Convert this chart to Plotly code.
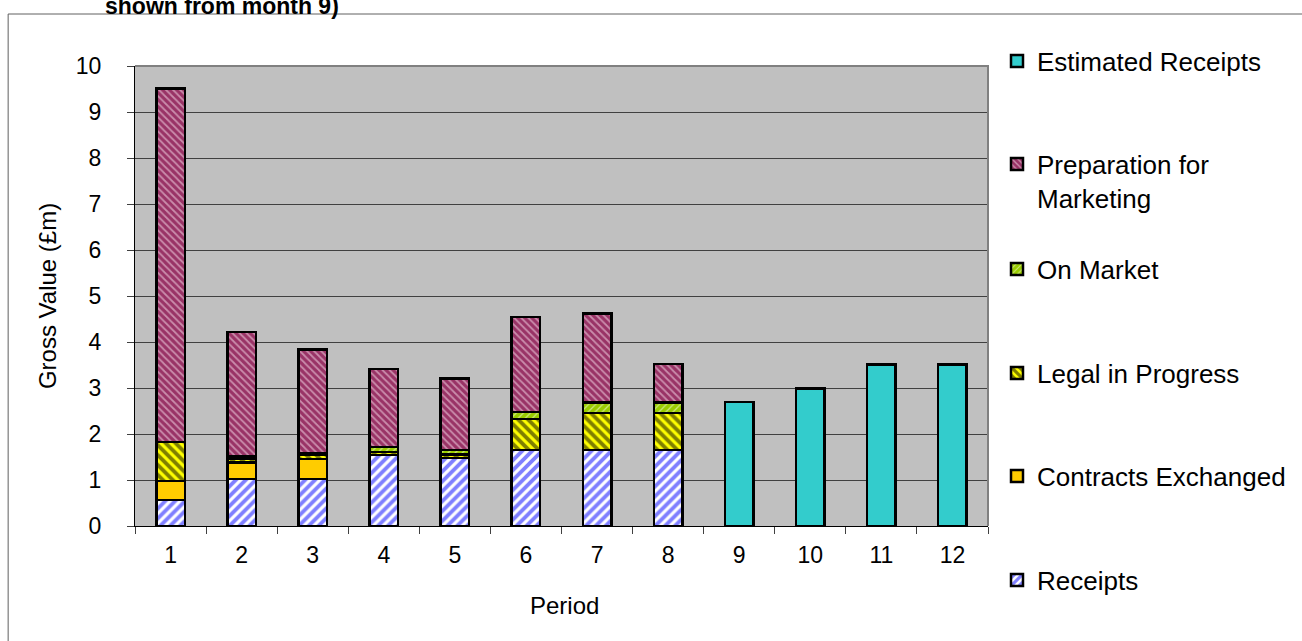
import plotly.graph_objects as go

periods = [str(i) for i in range(1, 13)]
receipts = [0.57, 1.02, 1.02, 1.54, 1.48, 1.65, 1.65, 1.65, None, None, None, None]
contracts = [0.41, 0.36, 0.44, 0.0, 0.0, 0.0, 0.0, 0.0, None, None, None, None]
legal = [0.85, 0.09, 0.08, 0.07, 0.07, 0.68, 0.81, 0.81, None, None, None, None]
on_market = [0.0, 0.04, 0.04, 0.11, 0.10, 0.15, 0.23, 0.23, None, None, None, None]
preparation = [7.68, 2.71, 2.26, 1.69, 1.56, 2.06, 1.93, 0.83, None, None, None, None]
estimated = [None] * 8 + [2.70, 2.99, 3.51, 3.51]

FONT = "Liberation Sans, Arial, sans-serif"

# plot area in pixels
W, H = 1302, 641
L, R, T, B = 135, 989, 66, 526


def px_x(p):
    return (p - L) / (R - L)


def px_y(p):
    return (B - p) / (B - T)


line = dict(color="black", width=2.5)
series = [
    ("Receipts", receipts, dict(color="#0000FF", line=line,
                                pattern=dict(shape="/", fgcolor="#0000FF", bgcolor="white", size=7, solidity=0.55)), "legend6", 580),
    ("Contracts Exchanged", contracts, dict(color="#FFCC00", line=line), "legend5", 476),
    ("Legal in Progress", legal, dict(color="#FFFF00", line=line,
                                      pattern=dict(shape="\\", fgcolor="black", bgcolor="#FFFF00", size=7, solidity=0.55)), "legend4", 373),
    ("On Market", on_market, dict(color="#99CC00", line=line,
                                  pattern=dict(shape="/", fgcolor="white", bgcolor="#99CC00", size=5, solidity=0.25)), "legend3", 269),
    ("Preparation for<br>Marketing", preparation, dict(color="#993366", line=line,
                                                       pattern=dict(shape="\\", fgcolor="#FBE6F0", bgcolor="#993366", size=5, solidity=0.35)), "legend2", 181),
    ("Estimated Receipts", estimated, dict(color="#33CCCC", line=line), "legend", 61),
]

fig = go.Figure()
legends = {}
for name, vals, marker, lg, ypx in series:
    fig.add_trace(go.Bar(x=periods, y=vals, name=name, marker=marker, legend=lg, showlegend=True))
    legends[lg] = dict(x=px_x(997), y=px_y(ypx), xanchor="left", yanchor="middle",
                       bgcolor="rgba(0,0,0,0)", font=dict(family=FONT, size=26, color="black"),
                       valign="top", tracegroupgap=0)

fig.update_layout(
    width=W, height=H,
    margin=dict(l=L, r=W - R, t=T, b=H - B),
    barmode="stack", bargap=0.6,
    plot_bgcolor="#C0C0C0", paper_bgcolor="white",
    font=dict(family=FONT, size=23, color="black"),
    showlegend=True,
    **legends,
)

fig.update_xaxes(type="category", tickson="boundaries", ticks="outside", ticklen=7,
                 tickcolor="#404040", showline=True, linecolor="black", linewidth=1,
                 showgrid=False, tickfont=dict(size=23), ticklabelstandoff=8)
fig.update_yaxes(range=[0, 10], dtick=1, ticks="outside", ticklen=7, tickcolor="#404040",
                 showline=True, linecolor="black", linewidth=1,
                 showgrid=True, gridcolor="#404040", gridwidth=1, zeroline=False,
                 tickfont=dict(size=23), ticklabelstandoff=21)

# top/right gray border of plot area
fig.add_shape(type="path", path="M 0,1 L 1,1 L 1,0", xref="paper", yref="paper",
              line=dict(color="#808080", width=2), layer="above")
# outer chart frame
fig.add_shape(type="rect", xref="paper", yref="paper",
              x0=px_x(8), x1=px_x(1320), y0=px_y(660), y1=px_y(14),
              line=dict(color="#606060", width=1), fillcolor="rgba(0,0,0,0)", layer="below")

fig.add_annotation(text="Gross Value (£m)", xref="paper", yref="paper", x=px_x(47), y=0.5,
                   xanchor="center", yanchor="middle",
                   textangle=-90, showarrow=False, font=dict(family=FONT, size=24, color="black"))
fig.add_annotation(text="Period", xref="paper", yref="paper", x=px_x(565), y=px_y(605),
                   xanchor="center", yanchor="middle",
                   showarrow=False, font=dict(family=FONT, size=24, color="black"))
fig.add_annotation(text="<b>shown from month 9)</b>", xref="paper", yref="paper",
                   x=px_x(103), y=px_y(21), xanchor="left", yanchor="bottom",
                   showarrow=False, font=dict(family=FONT, size=23, color="black"))

fig.write_html("out.html", config={"displayModeBar": False},
               post_script="document.body.style.margin='0';document.documentElement.style.overflow='hidden';")
